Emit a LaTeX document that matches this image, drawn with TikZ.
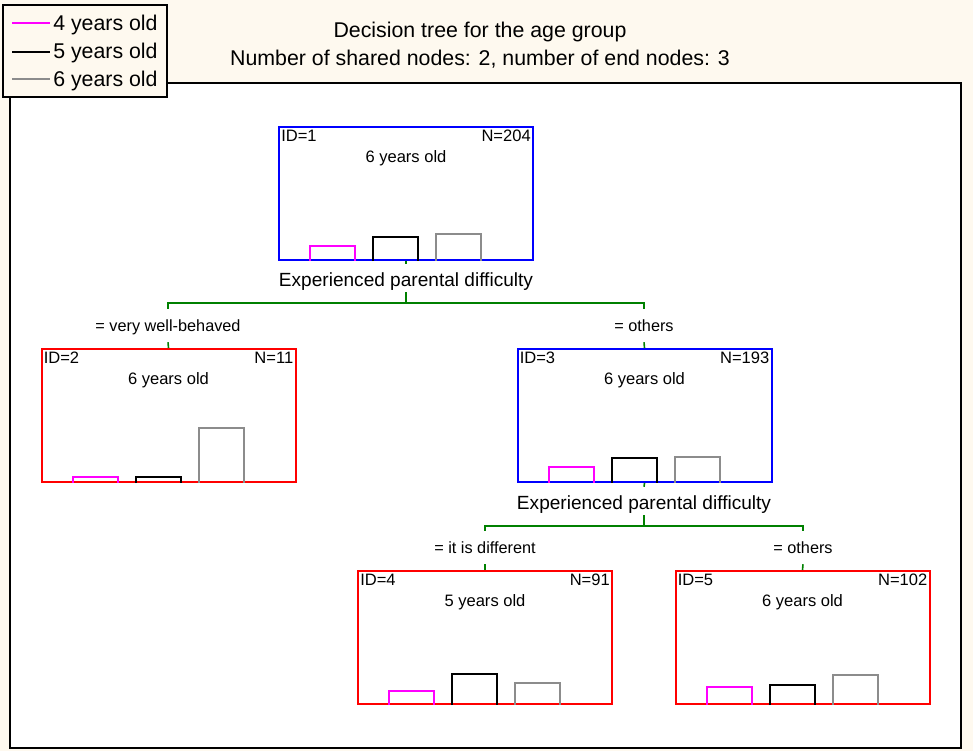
\documentclass[tikz,border=0pt]{standalone}
\usepackage{fontspec}
\setmainfont{Liberation Sans}
\usetikzlibrary{calc}
\definecolor{cream}{HTML}{FEF9EF}
\definecolor{agefour}{HTML}{FF00FF}
\definecolor{agefive}{HTML}{000000}
\definecolor{agesix}{HTML}{8C8C8C}
\definecolor{splitgreen}{HTML}{008000}
\definecolor{innerblue}{HTML}{0000FF}
\definecolor{leafred}{HTML}{FF0000}
% one histogram bar: style, node, x offset from the box's left edge, height
\newcommand\drawbar[4]{\draw[#1] ($(#2.south west)+(#3,0)$) -- ++(0,-#4) -- ++(45,0) -- ++(0,#4);}
\begin{document}
\begin{tikzpicture}[x=0.75pt,y=-0.75pt,
  tnode/.style={draw,line width=1.5pt,minimum width=190.5pt,minimum height=99.75pt,inner sep=0pt},
  inner/.style={tnode,draw=innerblue},
  leaf/.style={tnode,draw=leafred},
  info/.style={font=\fontsize{12.4}{14}\selectfont,inner sep=0pt},
  split/.style={font=\fontsize{14.3}{16}\selectfont,inner sep=0pt,text height=16.5pt,text depth=4.5pt,anchor=base},
  branchlabel/.style={font=\fontsize{12.2}{14}\selectfont,inner sep=0pt,text height=16.5pt,text depth=8.25pt,anchor=base},
  branch/.style={draw=splitgreen,line width=1.2pt},
  bara/.style={draw=agefour,line width=1.5pt},
  barb/.style={draw=agefive,line width=1.5pt},
  barc/.style={draw=agesix,line width=1.5pt},
  legtext/.style={font=\fontsize{16}{18}\selectfont,inner sep=0pt,anchor=base west},
  titletext/.style={font=\fontsize{16}{18}\selectfont,inner sep=0pt,anchor=base}]
\useasboundingbox (0,0) rectangle (973,751);
% background and plot frame
\fill[cream] (0,0) rectangle (973,751);
\draw[fill=white,line width=1.6pt] (10,83) rectangle (961,748);

% titles
\node[titletext] (title1) at (480,37) {Decision tree for the age group};
\node[titletext] (title2) at (480,65) {Number of shared nodes: 2, number of end nodes: 3};

% legend
\draw[fill=cream,line width=1.6pt] (3,5) rectangle (167,97);
\draw[agefour,line width=1.2pt] (12,23) -- (50,23);
\draw[agefive,line width=1.2pt] (12,52) -- (50,52);
\draw[agesix,line width=1.2pt] (12,79) -- (50,79);
\node[legtext] (leg4) at (53,30) {4 years old};
\node[legtext] (leg5) at (53,58) {5 years old};
\node[legtext] (leg6) at (53,86) {6 years old};

% tree nodes
\node[inner] (n1) at (406,193.5) {};
\node[leaf]  (n2) at (168.5,415.5) {};
\node[inner] (n3) at (644.5,415.5) {};
\node[leaf]  (n4) at (485,637.5) {};
\node[leaf]  (n5) at (802.5,637.5) {};

% node captions
\foreach \n/\id/\cnt/\cls in {n1/1/204/6, n2/2/11/6, n3/3/193/6, n4/4/91/5, n5/5/102/6}{
  \node[info,anchor=base west] (\n id) at ($(\n.north west)+(3,15)$) {ID=\id};
  \node[info,anchor=base east] (\n cnt) at ($(\n.north east)+(-3,15)$) {N=\cnt};
  \node[info,anchor=base] (\n cls) at ($(\n.north)+(0,36)$) {\cls\ years old};
}

% class histograms
\drawbar{bara}{n1}{32}{15}\drawbar{barb}{n1}{95}{24}\drawbar{barc}{n1}{158}{27}
\drawbar{bara}{n2}{32}{6} \drawbar{barb}{n2}{95}{6} \drawbar{barc}{n2}{158}{55}
\drawbar{bara}{n3}{32}{16}\drawbar{barb}{n3}{95}{25}\drawbar{barc}{n3}{158}{26}
\drawbar{bara}{n4}{32}{14}\drawbar{barb}{n4}{95}{31}\drawbar{barc}{n4}{158}{22}
\drawbar{bara}{n5}{32}{18}\drawbar{barb}{n5}{95}{20}\drawbar{barc}{n5}{158}{30}

% first split
\node[split] (s1) at (406,286) {Experienced parental difficulty};
\coordinate (h1) at (406,303);
\node[branchlabel] (b2) at (168,331) {= very well-behaved};
\node[branchlabel] (b3) at (644,331) {= others};
\draw[branch] (n1.south) -- (s1.north);
\draw[branch] (s1.south) -- (h1);
\draw[branch] (b2.north) |- (h1) -| (b3.north);
\draw[branch] (b2.south) -- (n2.north);
\draw[branch] (b3.south) -- (n3.north);

% second split
\node[split] (s3) at (644,509) {Experienced parental difficulty};
\coordinate (h3) at (644,526);
\node[branchlabel] (b4) at (485,553) {= it is different};
\node[branchlabel] (b5) at (803,553) {= others};
\draw[branch] (n3.south) -- (s3.north);
\draw[branch] (s3.south) -- (h3);
\draw[branch] (b4.north) |- (h3) -| (b5.north);
\draw[branch] (b4.south) -- (n4.north);
\draw[branch] (b5.south) -- (n5.north);
\end{tikzpicture}
\end{document}
